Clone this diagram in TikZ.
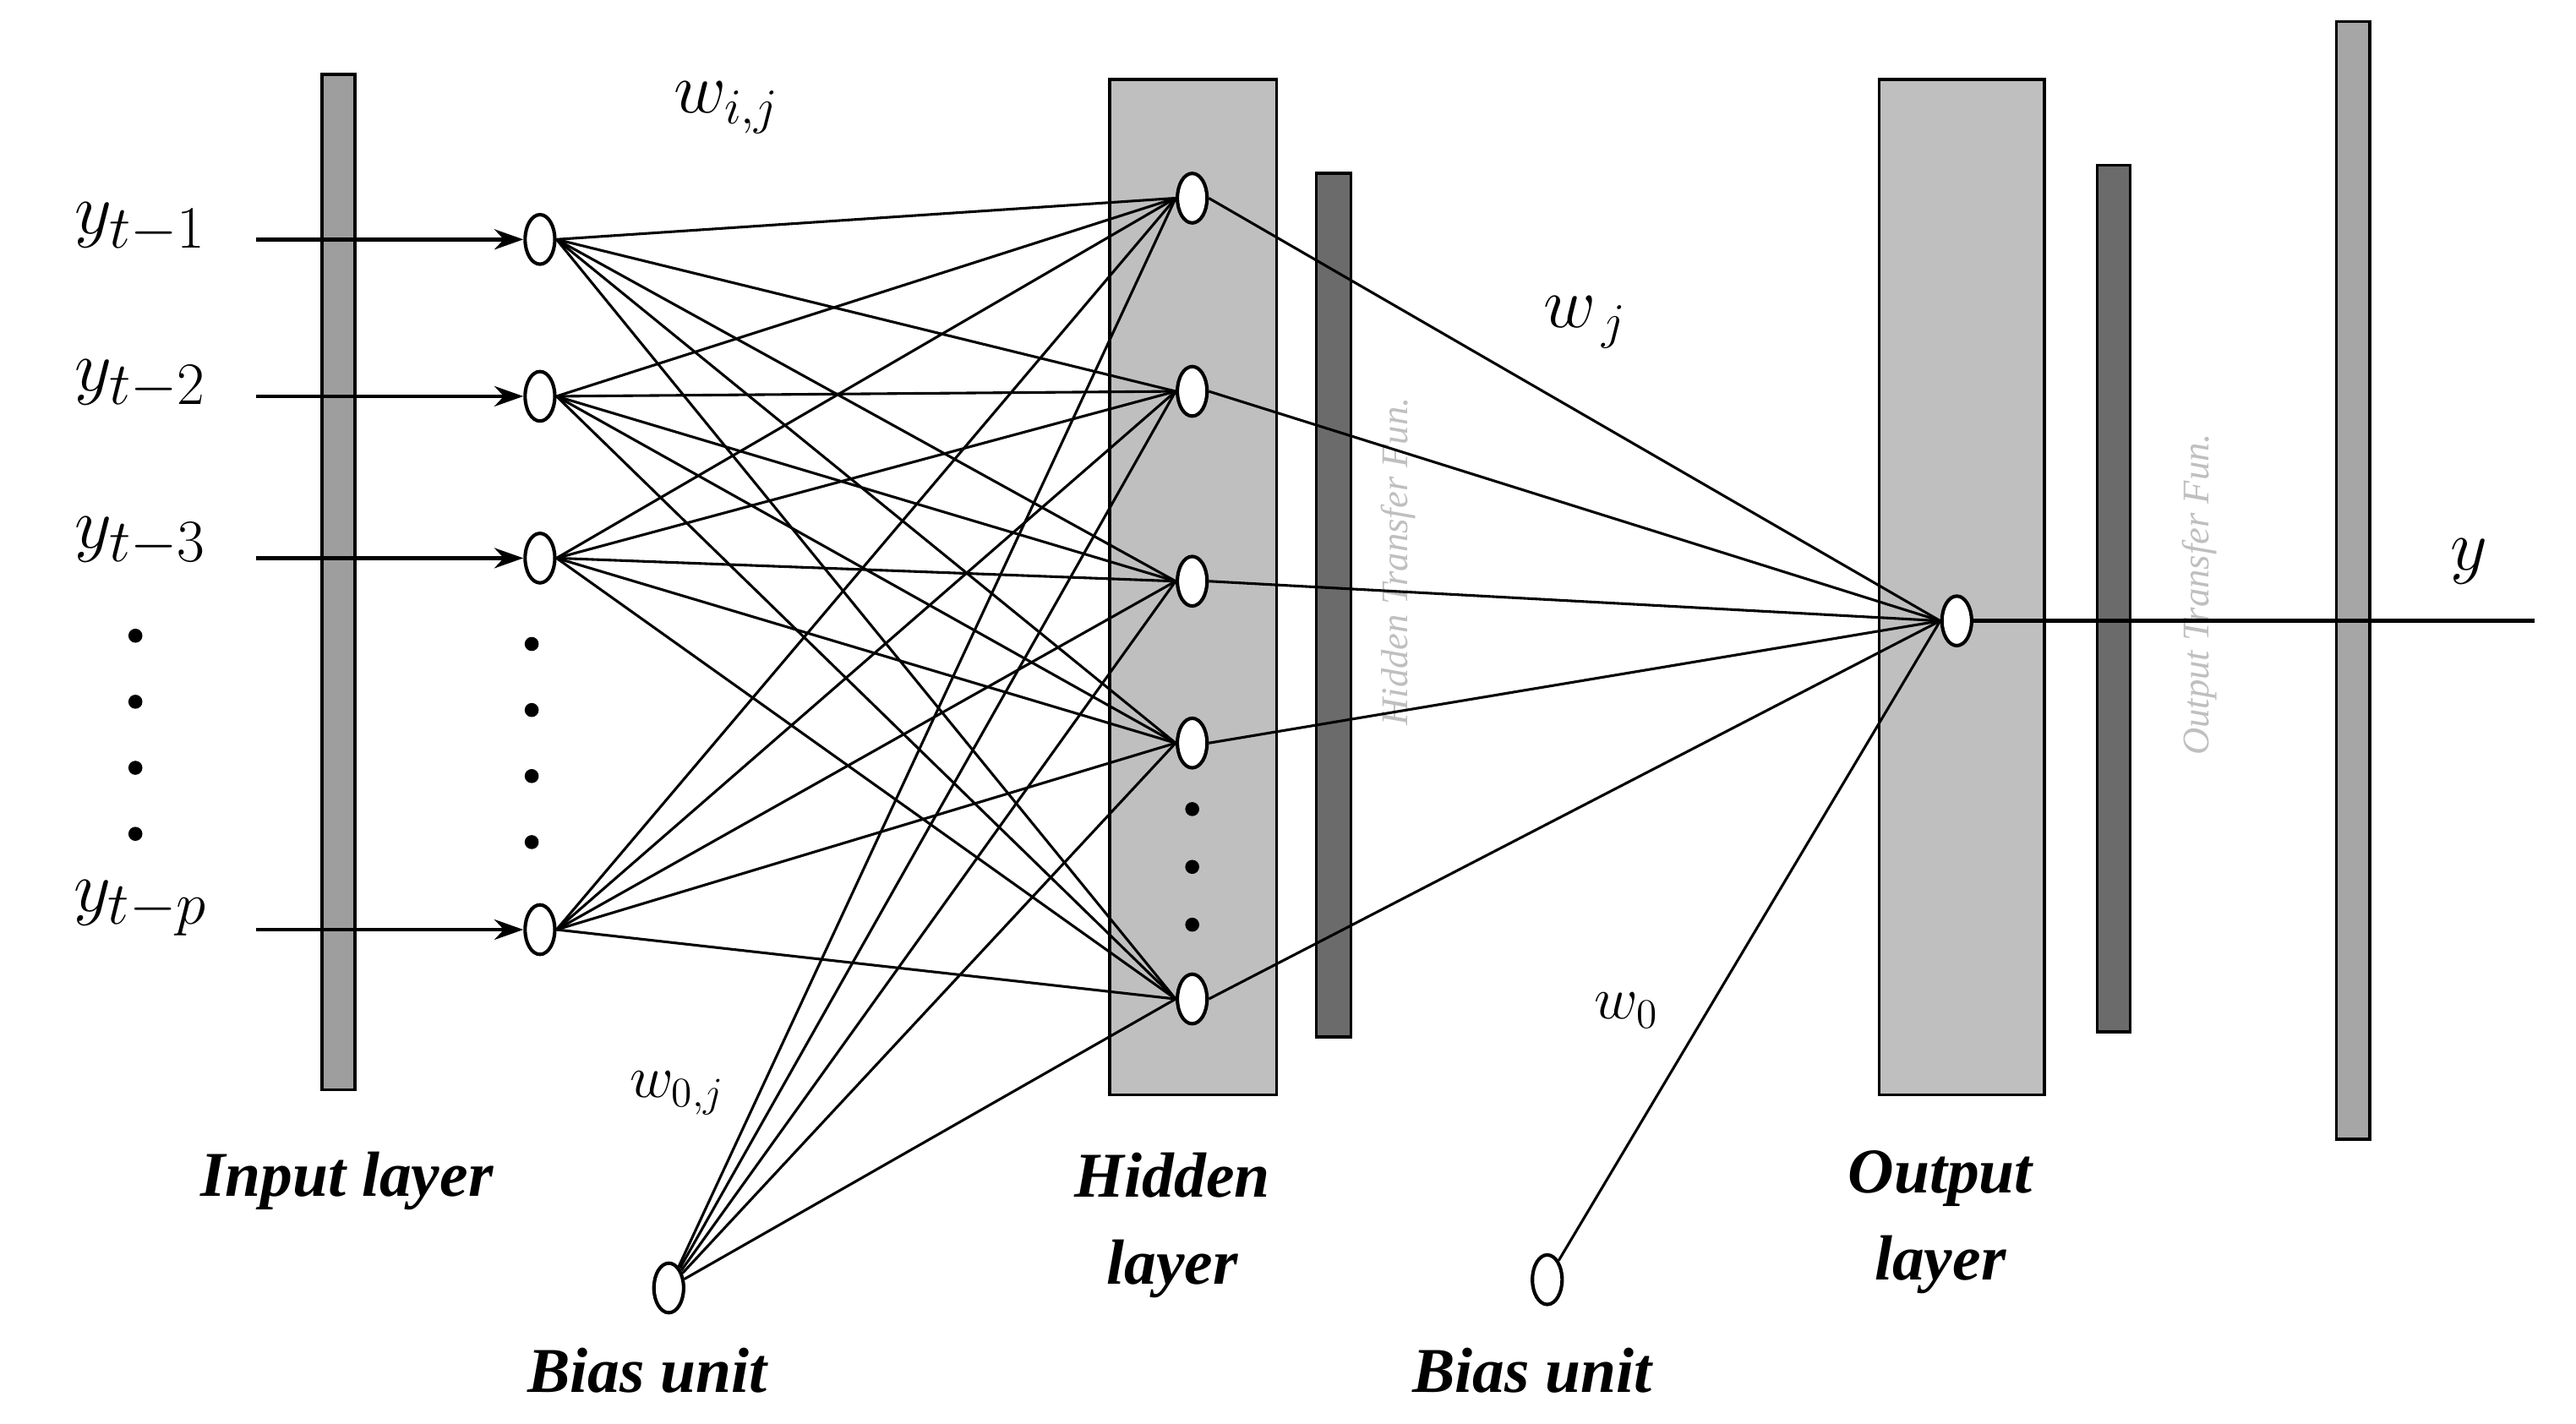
\documentclass[tikz,border=0pt]{standalone}
\usepackage{fontspec}
\setmainfont{Liberation Serif}
\usetikzlibrary{shapes.geometric,arrows.meta}
\begin{document}
\begin{tikzpicture}[x=0.02cm,y=-0.02cm,
  neuron/.style={ellipse,draw,fill=white,line width=1.2pt,inner sep=0pt,minimum width=0.36cm,minimum height=0.6cm},
  conn/.style={line width=0.9pt},
  bar/.style={draw=black,line width=1pt},
  lbl/.style={font=\fontsize{22}{26}\selectfont\bfseries\itshape,align=center},
  wl/.style={font=\fontsize{26}{30}\selectfont},
  yl/.style={font=\fontsize{31}{34}\selectfont},
  tf/.style={font=\fontsize{13}{15}\selectfont\itshape,text=black!25,rotate=90},
  dot/.style={circle,fill=black,inner sep=0pt,minimum size=0.17cm}]
\useasboundingbox (0,0) rectangle (1560,862);
% bars
\draw[bar,fill=black!38] (195,45) rectangle (215,660);
\draw[bar,fill=black!25] (672,48) rectangle (773,663);
\draw[bar,fill=black!58] (797,105) rectangle (818,628);
\draw[bar,fill=black!25] (1138,48) rectangle (1238,663);
\draw[bar,fill=black!58] (1270,100) rectangle (1290,625);
\draw[bar,fill=black!35] (1415,13) rectangle (1435,690);
\node[tf] (thf) at (847,340) {Hidden Transfer Fun.};
\node[tf] (tof) at (1332,360) {Output Transfer Fun.};
% nodes
\foreach \n/\y in {1/145,2/240,3/338,4/563}{\node[neuron] (i\n) at (327,\y) {};}
\foreach \n/\y in {1/120,2/237,3/352,4/450,5/605}{\node[neuron] (h\n) at (722,\y) {};}
\node[neuron] (o) at (1185,376) {};
\node[neuron] (b1) at (405,780) {};
\node[neuron] (b2) at (937,775) {};
% inputs
\foreach \n in {1,...,4}{
  \coordinate (s\n) at (155,0 |- i\n);
  \draw[line width=1.3pt,-{Stealth[length=10pt,width=7pt]}] (s\n) -- (i\n.west);}
\node[yl] (y1) at (85,138) {$y_{t-1}$};
\node[yl] (y2) at (85,233) {$y_{t-2}$};
\node[yl] (y3) at (85,328) {$y_{t-3}$};
\node[yl] (y4) at (85,550) {$y_{t-p}$};
\foreach \y in {385,425,465,505}{\node[dot] at (82,\y) {};}
\foreach \y in {390,430,470,510}{\node[dot] at (322,\y) {};}
\foreach \y in {490,525,560}{\node[dot] at (722,\y) {};}
% connections
\foreach \a in {1,...,4}{\foreach \b in {1,...,5}{\draw[conn] (i\a.east) -- (h\b.west);}}
\foreach \b in {1,...,5}{\draw[conn] (b1) -- (h\b.west); \draw[conn] (h\b.east) -- (o.west);}
\draw[conn] (b2) -- (o.west);
\coordinate (yout) at (1535,376);
\draw[line width=1.3pt] (o.east) -- (yout);
\node[yl] (ylab) at (1495,340) {$y$};
% weight labels
\node[wl] (wij) at (440,65) {$w_{i,j}$};
\node[wl] (wj) at (960,195) {$w_{\,j}$};
\node[font=\fontsize{20}{24}\selectfont] (w0j) at (410,662) {$w_{0,j}$};
\node[font=\fontsize{20}{24}\selectfont] (w0) at (985,612) {$w_{0}$};
% layer labels
\node[lbl] (il) at (210,715) {Input layer};
\node[lbl] (hl) at (710,742) {Hidden\\[4pt]layer};
\node[lbl] (ol) at (1175,740) {Output\\[4pt]layer};
\node[lbl] (bu1) at (392,830) {Bias unit};
\node[lbl] (bu2) at (928,830) {Bias unit};
\end{tikzpicture}
\end{document}
